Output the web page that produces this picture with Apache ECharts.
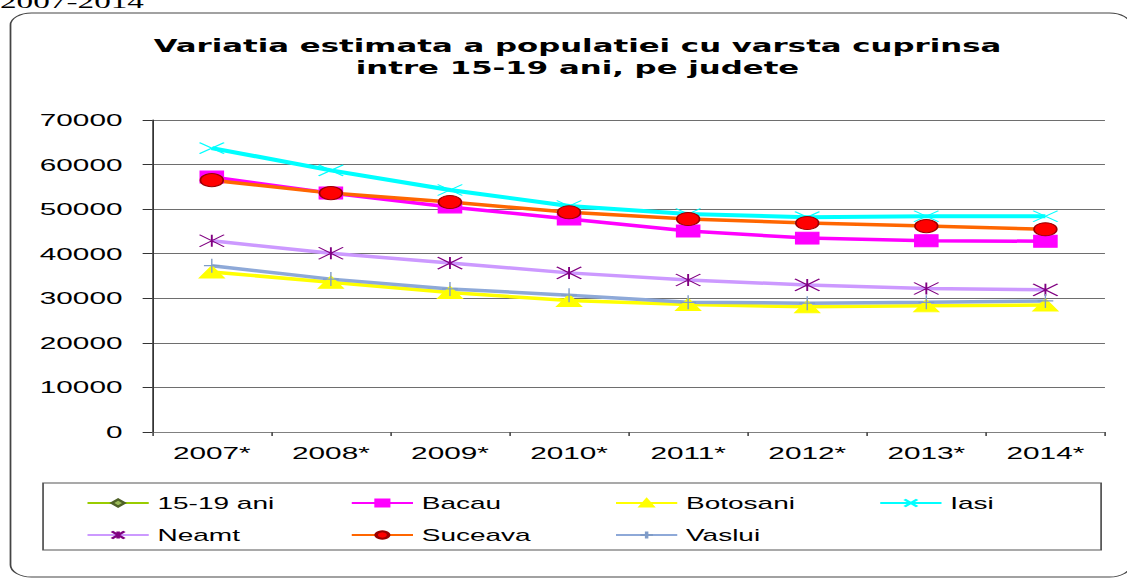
<!DOCTYPE html>
<html>
<head>
<meta charset="utf-8">
<script src="https://cdn.jsdelivr.net/npm/echarts@6/dist/echarts.min.js"></script>
<style>
  html, body { margin: 0; padding: 0; overflow: hidden; background: #fff; }
  /* the original picture is stretched horizontally, so the chart is drawn narrow and scaled */
  #chart { width: 644px; height: 579px; transform: scaleX(1.75); transform-origin: 0 0; }
</style>
</head>
<body>
<div id="chart"></div>
<script>
const years = ['2007*', '2008*', '2009*', '2010*', '2011*', '2012*', '2013*', '2014*'];
const ani1519 = [null, null, null, null, null, null, null, null];
const bacau = [57200, 53600, 50500, 47800, 45100, 43500, 42900, 42800];
const botosani = [35900, 33600, 31300, 29500, 28600, 28100, 28300, 28500];
const iasi = [63700, 58700, 54300, 50700, 48900, 48200, 48400, 48400];
const neamt = [42900, 40100, 37900, 35700, 34100, 33000, 32200, 31900];
const suceava = [56500, 53600, 51600, 49300, 47800, 46900, 46200, 45500];
const vaslui = [37300, 34300, 32100, 30700, 29100, 28900, 29100, 29400];
const yTicks = [0, 10000, 20000, 30000, 40000, 50000, 60000, 70000];

const font = 'Arial, "Liberation Sans", sans-serif';

function line(name, data, lineColor, symbol, size, fill, border, width) {
  return {
    name: name,
    type: 'line',
    data: data,
    symbol: symbol,
    symbolSize: size,
    showSymbol: true,
    lineStyle: { color: lineColor, width: width || 3.5 },
    itemStyle: { color: fill, borderColor: border, borderWidth: 1 },
    emphasis: { disabled: true },
  };
}

let option = {
  animation: false,
  graphic: [
    {
      type: 'rect',
      shape: { x: 6, y: 13, width: 640, height: 564, r: 12 },
      style: { fill: 'none', stroke: '#444', lineWidth: 1 },
      silent: true,
    },
    {
      type: 'rect',
      shape: { x: 24.6, y: 483, width: 604.6, height: 67 },
      style: { fill: 'none', stroke: '#555', lineWidth: 1 },
      silent: true,
    },
    {
      type: 'text',
      x: 0,
      y: 11,
      style: { text: '2007-2014', font: '19px "Liberation Serif", serif', fill: '#000', verticalAlign: 'bottom' },
      silent: true,
    },
    {
      // chart title
      type: 'text',
      x: 330,
      y: 35,
      style: {
        text: 'Variatia estimata a populatiei cu varsta cuprinsa\nintre 15-19 ani, pe judete',
        font: 'bold 17.6px "DejaVu Sans", sans-serif',
        fill: '#000',
        align: 'center',
        verticalAlign: 'top',
        lineHeight: 22,
      },
      silent: true,
    },
  ],
  legend: {
    left: 44,
    top: 487,
    width: 612,
    itemWidth: 35,
    itemHeight: 9,
    itemGap: 10,
    textStyle: { fontFamily: font, fontSize: 16, color: '#000', width: 100, lineHeight: 22 },
    data: ['15-19 ani', 'Bacau', 'Botosani', 'Iasi', '', 'Neamt', 'Suceava', 'Vaslui'],
  },
  grid: { left: 87, right: 12.6, top: 120, bottom: 147 },
  xAxis: {
    type: 'category',
    data: years,
    boundaryGap: true,
    axisLine: { lineStyle: { color: '#808080', width: 1 } },
    axisTick: { show: true, length: 4, lineStyle: { color: '#555' } },
    axisLabel: { fontFamily: font, fontSize: 17, color: '#000', margin: 13 },
  },
  yAxis: {
    type: 'value',
    min: 0,
    max: 70000,
    interval: 10000,
    axisLine: { show: true, lineStyle: { color: '#333', width: 1 } },
    axisTick: { show: true, length: 5.5, lineStyle: { color: '#333' } },
    axisLabel: {
      fontFamily: font,
      fontSize: 17,
      color: '#000',
      margin: 17,
      formatter: function (v) { return yTicks.indexOf(v) >= 0 ? String(v) : ''; },
    },
    splitLine: { show: true, lineStyle: { color: '#6e6e6e', width: 1 } },
  },
  series: [
    line('15-19 ani', ani1519, '#99CC00', 'diamond', 9, '#9BBB59', '#4F6228'),
    line('Bacau', bacau, '#FF00FF', 'rect', [13, 12], '#FF00FF', '#FF00FF'),
    line('Botosani', botosani, '#FFFF00', 'triangle', [14, 12], '#FFFF00', '#FFFF00'),
    line('Iasi', iasi, '#00FFFF', 'path://M0,0L10,10M10,0L0,10', [14, 11], 'rgba(0,0,0,0)', '#00FFFF', 4),
    line('Neamt', neamt, '#CC99FF', 'path://M0,0L10,10M10,0L0,10M5,0L5,10', [14, 12], 'rgba(0,0,0,0)', '#800080'),
    line('Suceava', suceava, '#FF6600', 'circle', 13, '#FF0000', '#990000'),
    line('Vaslui', vaslui, '#8EA9D8', 'path://M0,5L10,5M5,0L5,10', [9, 14], 'rgba(0,0,0,0)', '#7F9CC8'),
  ],
};

let chartDom = document.getElementById('chart');
let myChart = echarts.init(chartDom, null, { renderer: 'svg' });
myChart.setOption(option);
</script>
</body>
</html>
